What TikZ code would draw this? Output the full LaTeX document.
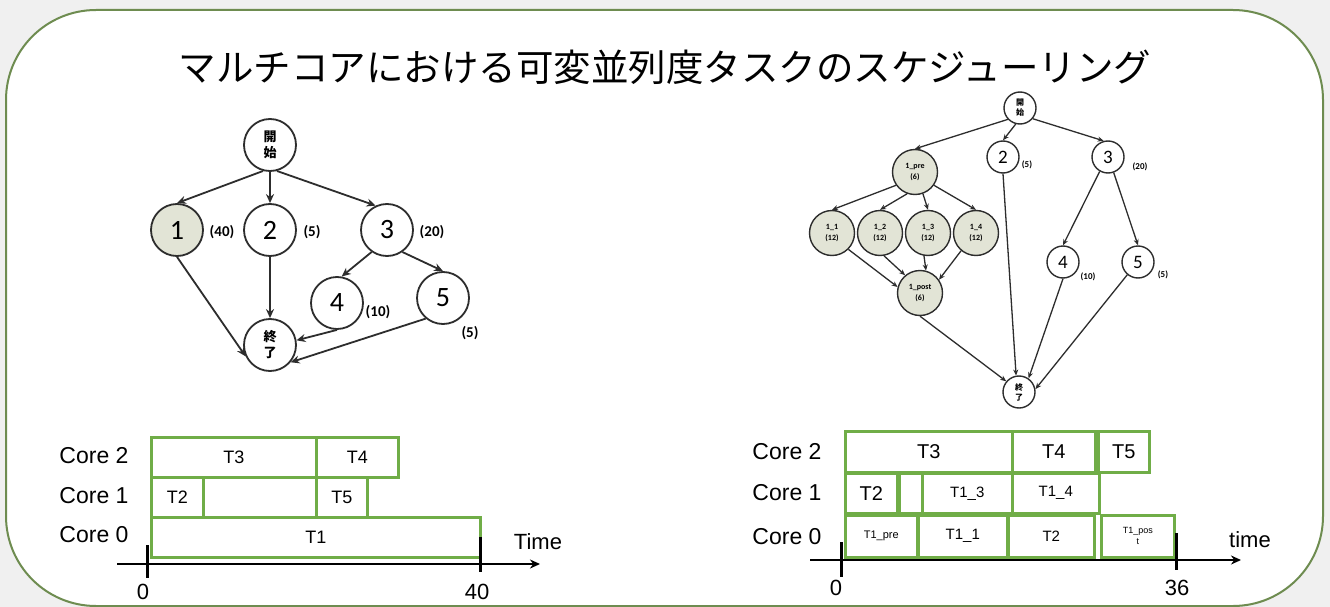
\documentclass[tikz,border=0pt]{standalone}
\usepackage{fontspec}
\setmainfont{Carlito}
\newfontfamily\jpfont{Noto Sans CJK JP}
\newfontfamily\lsans{Liberation Sans}
\usetikzlibrary{arrows.meta}
\definecolor{boxgreen}{RGB}{112,173,71}
\definecolor{framegreen}{RGB}{110,140,80}
\definecolor{taskfill}{RGB}{226,228,214}
\definecolor{pagegray}{RGB}{240,240,240}
\definecolor{inkgray}{RGB}{45,45,45}

% Gantt box: name, x1, y1, x2, y2, font, text
\newcommand{\ganttbox}[7]{%
  \node[gbox, font=#6, minimum width={#4pt-#2pt}, minimum height={#5pt-#3pt},
        anchor=north west] (#1) at (#2,#3) {#7};}

\begin{document}
\begin{tikzpicture}[x=1pt,y=-1pt,
  bignode/.style={circle, draw=inkgray, line width=1.8pt, minimum size=52pt, inner sep=0pt,
                  font=\fontsize{28pt}{30pt}\selectfont},
  bigjp/.style={bignode, align=center, font=\jpfont\bfseries\fontsize{13pt}{16pt}\selectfont},
  bigcost/.style={font=\bfseries\fontsize{15pt}{16pt}\selectfont, inner sep=0pt},
  ledge/.style={draw=inkgray, line width=1.8pt, -{Stealth[length=9pt,width=8pt]}},
  smallnode/.style={circle, draw=inkgray, line width=1.4pt, minimum size=32pt, inner sep=0pt,
                    font=\fontsize{19pt}{20pt}\selectfont},
  smalljp/.style={smallnode, align=center, font=\jpfont\bfseries\fontsize{8pt}{10pt}\selectfont},
  subnode/.style={circle, draw=inkgray, fill=taskfill, line width=1.4pt, minimum size=45pt,
                  inner sep=0pt, align=center, font=\bfseries\fontsize{8pt}{11pt}\selectfont},
  smallcost/.style={font=\bfseries\fontsize{9pt}{10pt}\selectfont, inner sep=0pt},
  redge/.style={draw=inkgray, line width=1.3pt, -{Stealth[length=6pt,width=5pt]}},
  gbox/.style={draw=boxgreen, line width=2.6pt, inner sep=0pt},
  corelbl/.style={font=\lsans\fontsize{23pt}{24pt}\selectfont, inner sep=0pt},
  axisline/.style={draw=black, line width=2.6pt, -{Stealth[length=10pt,width=9pt]}},
  tickline/.style={draw=black, line width=3pt},
  ticklbl/.style={font=\lsans\fontsize{22pt}{24pt}\selectfont, inner sep=0pt}
]
% page and rounded frame
\fill[pagegray] (0,0) rectangle (1330,607);
\path[use as bounding box] (0,0) rectangle (1330,607);
\draw[framegreen, line width=2pt, fill=white, rounded corners=90pt] (6,10) rectangle (1323,606);

% title
\node[font=\jpfont\fontsize{37.5pt}{38pt}\selectfont, inner sep=0pt] (title) at (665,67)
  {マルチコアにおける可変並列度タスクのスケジューリング};

% ---------------- left task graph ----------------
\node[bigjp] (ls) at (270,145) {開\\始};
\node[bignode, fill=taskfill] (l1) at (177,230) {1};
\node[bignode] (l2) at (270,230) {2};
\node[bignode] (l3) at (387,230) {3};
\node[bignode] (l4) at (337,303) {4};
\node[bignode] (l5) at (443,298) {5};
\node[bigjp] (le) at (270,345) {終\\了};

\node[bigcost] (l1c) at (222,232) {(40)};
\node[bigcost] (l2c) at (312,232) {(5)};
\node[bigcost] (l3c) at (432,232) {(20)};
\node[bigcost] (l4c) at (378,312) {(10)};
\node[bigcost] (l5c) at (470,333) {(5)};

\draw[ledge] (ls.255) -- (l1.north);
\draw[ledge] (ls.south) -- (l2.north);
\draw[ledge] (ls.285) -- (l3.115);
\draw[ledge] (l1.south) -- (le.205);
\draw[ledge] (l2.south) -- (le.north);
\draw[ledge] (l3.235) -- (l4.80);
\draw[ledge] (l3.-55) -- (l5.north);
\draw[ledge] (l4.south) -- (le.10);
\draw[ledge] (l5.230) -- (le.-40);

% ---------------- right task graph ----------------
\node[smalljp] (rs) at (1020,108) {開\\始};
\node[subnode] (rpre) at (915,172) {1\_pre\\(6)};
\node[smallnode] (r2) at (1003,157) {2};
\node[smallnode] (r3) at (1108,157) {3};
\node[subnode] (rk1) at (832,233) {1\_1\\(12)};
\node[subnode] (rk2) at (880,233) {1\_2\\(12)};
\node[subnode] (rk3) at (928,233) {1\_3\\(12)};
\node[subnode] (rk4) at (976,233) {1\_4\\(12)};
\node[subnode] (rpost) at (920,293) {1\_post\\(6)};
\node[smallnode] (r4) at (1063,262) {4};
\node[smallnode] (r5) at (1138,262) {5};
\node[smalljp] (re) at (1019,392) {終\\了};

\node[smallcost] (r2c) at (1027,165) {(5)};
\node[smallcost] (r3c) at (1140,167) {(20)};
\node[smallcost] (r4c) at (1088,277) {(10)};
\node[smallcost] (r5c) at (1163,275) {(5)};

\draw[redge] (rs.223) -- (rpre.north);
\draw[redge] (rs.255) -- (r2.north);
\draw[redge] (rs.-40) -- (r3.105);
\draw[redge] (rpre.215) -- (rk1.north);
\draw[redge] (rpre.250) -- (rk2.north);
\draw[redge] (rpre.290) -- (rk3.north);
\draw[redge] (rpre.325) -- (rk4.north);
\draw[redge] (rk1.-45) -- (rpost.165);
\draw[redge] (rk2.280) -- (rpost.130);
\draw[redge] (rk3.260) -- (rpost.75);
\draw[redge] (rk4.230) -- (rpost.35);
\draw[redge] (rpost.south) -- (re.140);
\draw[redge] (r2.south) -- (re.100);
\draw[redge] (r3.240) -- (r4.north);
\draw[redge] (r3.-70) -- (r5.north);
\draw[redge] (r4.south) -- (re.55);
\draw[redge] (r5.230) -- (re.10);

% ---------------- left schedule ----------------
\node[corelbl] (lc2) at (94,456) {Core 2};
\node[corelbl] (lc1) at (94,496) {Core 1};
\node[corelbl] (lc0) at (94,535) {Core 0};
\ganttbox{lt1}{150}{516}{479}{556}{\lsans\fontsize{18pt}{20pt}\selectfont}{T1}
\ganttbox{lt3}{150}{436}{315}{476}{\lsans\fontsize{18pt}{20pt}\selectfont}{T3}
\ganttbox{lt4}{315}{436}{397}{476}{\lsans\fontsize{18pt}{20pt}\selectfont}{T4}
\ganttbox{lt2}{150}{476}{202}{516}{\lsans\fontsize{18pt}{20pt}\selectfont}{T2}
\ganttbox{lidle}{202}{476}{315}{516}{\lsans}{}
\ganttbox{lt5}{315}{476}{366}{516}{\lsans\fontsize{18pt}{20pt}\selectfont}{T5}
\coordinate (lax0) at (117,564);
\coordinate (lax1) at (540,564);
\draw[axisline] (lax0) -- (lax1);
\coordinate (ltk0a) at (147,545);
\coordinate (ltk0b) at (147,578);
\coordinate (ltk1a) at (480,537);
\coordinate (ltk1b) at (480,572);
\draw[tickline] (ltk0a) -- (ltk0b);
\draw[tickline] (ltk1a) -- (ltk1b);
\node[ticklbl] (l0) at (143,592) {0};
\node[ticklbl] (l40) at (477,592) {40};
\node[ticklbl] (ltime) at (538,542) {Time};

% ---------------- right schedule ----------------
\node[corelbl] (rc2) at (787,452) {Core 2};
\node[corelbl] (rc1) at (787,493) {Core 1};
\node[corelbl] (rc0) at (787,537) {Core 0};
\ganttbox{rt3}{844}{430}{1011}{471}{\lsans\fontsize{20pt}{22pt}\selectfont}{T3}
\ganttbox{rt4}{1011}{430}{1094}{471}{\lsans\fontsize{20pt}{22pt}\selectfont}{T4}
\ganttbox{rt5}{1097}{430}{1148}{471}{\lsans\fontsize{20pt}{22pt}\selectfont}{T5}
\ganttbox{rt2a}{844}{472}{896}{512}{\lsans\fontsize{20pt}{22pt}\selectfont}{T2}
\ganttbox{ridle}{898}{472}{921}{512}{\lsans}{}
\ganttbox{rt13}{921}{472}{1011}{512}{\lsans\fontsize{15pt}{17pt}\selectfont}{T1\_3}
\ganttbox{rt14}{1011}{472}{1098}{512}{\lsans\fontsize{15pt}{17pt}\selectfont}{T1\_4}
\ganttbox{rtpre}{844}{514}{916}{556}{\lsans\fontsize{11pt}{12pt}\selectfont}{T1\_pre}
\ganttbox{rt11}{917}{514}{1006}{556}{\lsans\fontsize{15pt}{17pt}\selectfont}{T1\_1}
\ganttbox{rt2b}{1007}{514}{1093}{556}{\lsans\fontsize{15pt}{17pt}\selectfont}{T2}
\node[gbox, align=center, font=\lsans\fontsize{9pt}{11pt}\selectfont,
      minimum width=73pt, minimum height=42pt, anchor=north west] (rtpost) at (1100,514) {T1\_pos\\t};
\coordinate (rax0) at (810,560);
\coordinate (rax1) at (1241,560);
\draw[axisline] (rax0) -- (rax1);
\coordinate (rtk0a) at (841,542);
\coordinate (rtk0b) at (841,577);
\coordinate (rtk1a) at (1176,533);
\coordinate (rtk1b) at (1176,570);
\draw[tickline] (rtk0a) -- (rtk0b);
\draw[tickline] (rtk1a) -- (rtk1b);
\node[ticklbl] (r0) at (836,588) {0};
\node[ticklbl] (r36) at (1177,588) {36};
\node[ticklbl] (rtime) at (1250,540) {time};
\end{tikzpicture}
\end{document}
